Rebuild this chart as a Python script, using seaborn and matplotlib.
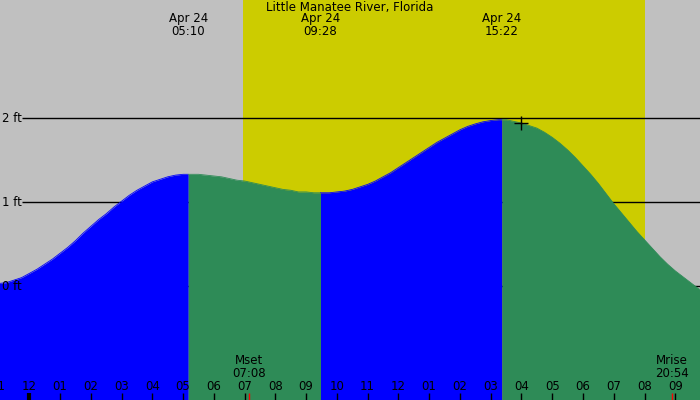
"""
Tide chart for Little Manatee River, Florida (Apr 24).
Rising water in blue, falling water in green, daylight band in yellow.
"""

import matplotlib
matplotlib.use("Agg")
import matplotlib.pyplot as plt
import numpy as np
import pandas as pd
import seaborn as sns

# ── Data ───────────────────────────────────────────────────────────────────
station = "Little Manatee River, Florida"
date_label = "Apr 24"

# hours from midnight Apr 24, tide height in feet
tide_hours = [
    -1.0, -0.75, -0.5, -0.25, 0.0, 0.25, 0.5, 0.75, 1.0, 1.25, 1.5, 1.75,
    2.0, 2.25, 2.5, 2.75, 3.0, 3.25, 3.5, 3.75, 4.0, 4.25, 4.5, 4.75, 5.0, 5.167,
    5.25, 5.5, 5.75, 6.0, 6.25, 6.5, 6.75, 7.0, 7.25, 7.5, 7.75, 8.0, 8.25,
    8.5, 8.75, 9.0, 9.25, 9.467,
    9.75, 10.0, 10.25, 10.5, 10.75, 11.0, 11.25, 11.5, 11.75, 12.0, 12.25,
    12.5, 12.75, 13.0, 13.25, 13.5, 13.75, 14.0, 14.25, 14.5, 14.75, 15.0,
    15.25, 15.367,
    15.5, 15.75, 16.0, 16.25, 16.5, 16.75, 17.0, 17.25, 17.5, 17.75, 18.0,
    18.25, 18.5, 18.75, 19.0, 19.25, 19.5, 19.75, 20.0, 20.25, 20.5, 20.75,
    21.0, 21.25, 21.5, 21.75, 22.0,
]
tide_feet = [
    0.03, 0.04, 0.07, 0.10, 0.15, 0.20, 0.26, 0.32, 0.39, 0.46, 0.54, 0.63,
    0.71, 0.79, 0.86, 0.94, 1.01, 1.08, 1.14, 1.19, 1.24, 1.27, 1.30, 1.32, 1.33, 1.33,
    1.33, 1.33, 1.32, 1.31, 1.30, 1.28, 1.26, 1.25, 1.23, 1.21, 1.19, 1.17, 1.15,
    1.14, 1.12, 1.12, 1.11, 1.11,
    1.11, 1.12, 1.13, 1.15, 1.18, 1.21, 1.25, 1.30, 1.35, 1.41, 1.47,
    1.53, 1.59, 1.65, 1.71, 1.76, 1.81, 1.86, 1.90, 1.93, 1.955, 1.97,
    1.98, 1.98,
    1.98, 1.96, 1.94, 1.91, 1.88, 1.83, 1.77, 1.70, 1.62, 1.53, 1.43,
    1.33, 1.22, 1.10, 0.98, 0.87, 0.76, 0.65, 0.55, 0.45, 0.35, 0.26,
    0.18, 0.11, 0.04, -0.03, -0.08,
]

extreme_hours = [5.167, 9.467, 15.367]
extreme_times = ["05:10", "09:28", "15:22"]

sunrise_hour = 6.95
sunset_hour = 20.02

moon_hours = [7.133, 20.9]
moon_labels = ["Mset\n07:08", "Mrise\n20:54"]

hour_ticks = [-1, 0, 1, 2, 3, 4, 5, 6, 7, 8, 9, 10, 11,
              12, 13, 14, 15, 16, 17, 18, 19, 20, 21]
hour_labels = ["11", "12", "01", "02", "03", "04", "05", "06", "07", "08", "09", "10", "11",
               "12", "01", "02", "03", "04", "05", "06", "07", "08", "09"]

level_feet = [0, 1, 2]
level_labels = ["0 ft", "1 ft", "2 ft"]

now_hour = 16.0
now_feet = 1.94

# ── Style ──────────────────────────────────────────────────────────────────
sns.set_theme(style="white")
plt.rcParams["font.family"] = ["DejaVu Sans"]
plt.rcParams["text.color"] = "black"

GRAY = "#c0c0c0"
YELLOW = "#cccc00"
BLUE = "#0000ff"
GREEN = "#2e8b57"
FS = 8.5

XMIN, XMAX = -0.9525, 21.804
YMIN, YMAX = -1.357, 3.405

df = pd.DataFrame({"hour": tide_hours, "feet": tide_feet})

fig = plt.figure(figsize=(7, 4), dpi=100)
ax = fig.add_axes([0, 0, 1, 1])
ax.set_facecolor(GRAY)
ax.set_xlim(XMIN, XMAX)
ax.set_ylim(YMIN, YMAX)
for s in ax.spines.values():
    s.set_visible(False)

# daylight
ax.axvspan(sunrise_hour, sunset_hour, color=YELLOW, lw=0, zorder=0.5)

# foot levels
ax.hlines(level_feet, 22 / 700, 1, transform=ax.get_yaxis_transform(),
          color="black", lw=1, zorder=1)

# ── Tide fill, split at high/low water ─────────────────────────────────────
bounds = [-np.inf] + extreme_hours + [np.inf]
for b0, b1 in zip(bounds[:-1], bounds[1:]):
    seg = df[(df["hour"] >= b0) & (df["hour"] <= b1)]
    color = BLUE if seg["feet"].iloc[-1] > seg["feet"].iloc[0] else GREEN
    ax.fill_between(seg["hour"], seg["feet"], YMIN, color=color, lw=0, zorder=2)
    sns.lineplot(data=seg, x="hour", y="feet", color=color, lw=0.6,
                 ax=ax, zorder=2, legend=False)

sns.scatterplot(x=[now_hour], y=[now_feet], marker="+", s=90, color="black",
                linewidth=1, ax=ax, zorder=3)
ax.set_xlabel("")
ax.set_ylabel("")
ax.set_xticks([])
ax.set_yticks([])
ax.set_xlim(XMIN, XMAX)
ax.set_ylim(YMIN, YMAX)

# ── Labels ─────────────────────────────────────────────────────────────────
xt = ax.get_xaxis_transform()
yt = ax.get_yaxis_transform()

ax.text(0.5, 0.98, station, transform=ax.transAxes, ha="center", va="center",
        fontsize=FS, zorder=4)
for h, t in zip(extreme_hours, extreme_times):
    ax.text(h, 1 - 25 / 400, f"{date_label}\n{t}", transform=xt, ha="center",
            va="center", fontsize=FS, linespacing=1.0, zorder=4)

for lv, lab in zip(level_feet, level_labels):
    ax.text(2 / 700, lv, lab, transform=yt, ha="left", va="center",
            fontsize=FS, zorder=4)

# hour ticks along the bottom (midnight tick drawn heavier)
widths = [3 if h == 0 else 1 for h in hour_ticks]
ax.vlines(hour_ticks, 0, 7 / 400, transform=xt, color="black",
          linewidths=widths, zorder=4)
for h, lab in zip(hour_ticks, hour_labels):
    ax.text(h, 14 / 400, lab, transform=xt, ha="center", va="center",
            fontsize=FS, zorder=4)

# moon events
ax.vlines(moon_hours, 0, 7 / 400, transform=xt, color="red", lw=1, zorder=4)
for h, lab in zip(moon_hours, moon_labels):
    ax.text(h, 33 / 400, lab, transform=xt, ha="center", va="center",
            fontsize=FS, linespacing=1.0, zorder=4)

fig.savefig("out.png", dpi=100)
